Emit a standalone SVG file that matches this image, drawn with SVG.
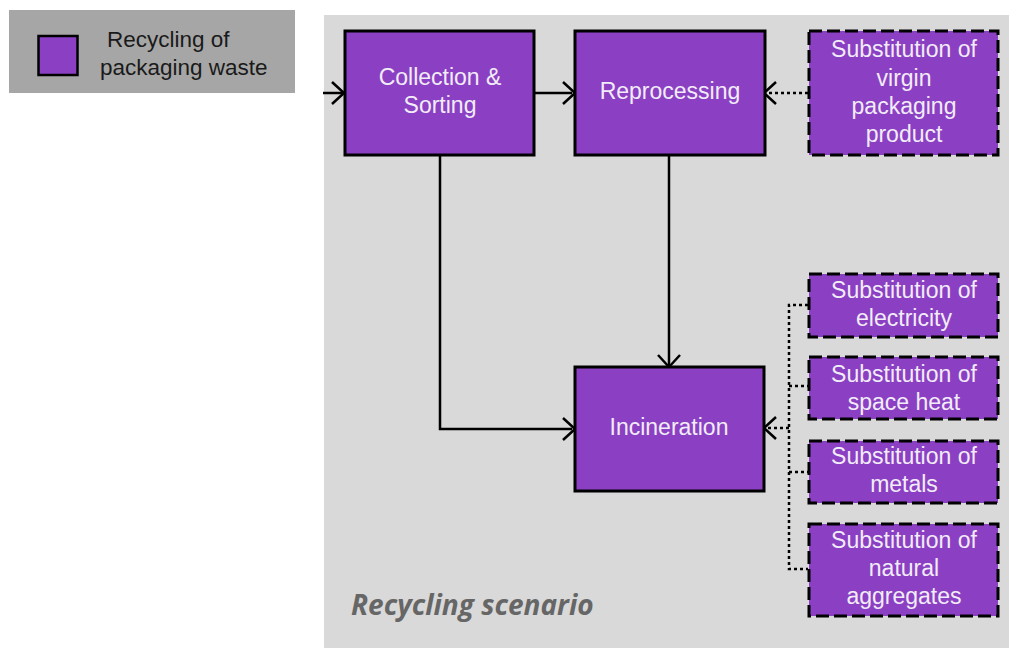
<svg xmlns="http://www.w3.org/2000/svg" width="1009" height="648" viewBox="0 0 1009 648">
<defs>
<style>
.bg{fill:#d9d9d9}
.box{fill:#8b40c3;stroke:#000;stroke-width:3}
.sub{fill:#8b40c3;stroke:#000;stroke-width:3;stroke-dasharray:13 5}
.t{font-family:"Liberation Sans",Arial,sans-serif;font-size:23px;fill:#f2ecf8;text-anchor:middle}
.lt{font-family:"Liberation Sans",Arial,sans-serif;font-size:22.5px;fill:#1a1a1a}
.ln{fill:none;stroke:#000;stroke-width:2.5}
.dl{fill:none;stroke:#000;stroke-width:2.5;stroke-dasharray:3 3}
.ah{fill:none;stroke:#000;stroke-width:2.5}
.title{font-family:"Open Sans",sans-serif;font-size:28px;font-weight:bold;font-style:italic;fill:#666}
</style>
</defs>
<rect x="0" y="0" width="1009" height="648" fill="#fff"/>
<g id="legend">
<rect x="9" y="10" width="286" height="83" fill="#a6a6a6"/>
<rect x="38.5" y="36" width="39" height="39" fill="#8b40c3" stroke="#000" stroke-width="2.5"/>
<text class="lt" x="107" y="47">Recycling of</text>
<text class="lt" x="100" y="75">packaging waste</text>
</g>
<rect id="panel" class="bg" x="324" y="15" width="685" height="633"/>
<text id="scenario-title" class="title" x="351" y="615">Recycling scenario</text>
<g id="connectors">
<path class="ln" d="M323 93H342"/>
<path class="ln" d="M534 93H572"/>
<path class="ln" d="M440 155V429H572"/>
<path class="ln" d="M669 155V365"/>
<path class="dl" d="M808 93H767"/>
<path class="dl" d="M808 305H789V569H808"/>
<path class="dl" d="M789 386H808"/>
<path class="dl" d="M789 472H808"/>
<path class="dl" d="M789 428H767"/>
<path class="ah" d="M332 82L344 93L332 104"/>
<path class="ah" d="M563 82L575 93L563 104"/>
<path class="ah" d="M563 418L575 429L563 440"/>
<path class="ah" d="M658 355L669 367L680 355"/>
<path class="ah" d="M776 82L764 93L776 104"/>
<path class="ah" d="M776 417L764 428L776 439"/>
</g>
<g id="collection-sorting">
<rect class="box" x="345" y="31" width="189" height="124"/>
<text class="t" x="440" y="85">Collection &amp;</text>
<text class="t" x="440" y="113">Sorting</text>
</g>
<g id="reprocessing">
<rect class="box" x="575" y="31" width="190" height="124"/>
<text class="t" x="670" y="99">Reprocessing</text>
</g>
<g id="incineration">
<rect class="box" x="575" y="367" width="189" height="124"/>
<text class="t" x="669" y="435">Incineration</text>
</g>
<g id="sub-virgin">
<rect class="sub" x="809" y="31" width="189" height="124"/>
<text class="t" x="904" y="57">Substitution of</text>
<text class="t" x="904" y="86">virgin</text>
<text class="t" x="904" y="114">packaging</text>
<text class="t" x="904" y="142">product</text>
</g>
<g id="sub-electricity">
<rect class="sub" x="809" y="274" width="189" height="63"/>
<text class="t" x="904" y="298">Substitution of</text>
<text class="t" x="904" y="326">electricity</text>
</g>
<g id="sub-space-heat">
<rect class="sub" x="809" y="357" width="189" height="62"/>
<text class="t" x="904" y="382">Substitution of</text>
<text class="t" x="904" y="410">space heat</text>
</g>
<g id="sub-metals">
<rect class="sub" x="809" y="441" width="189" height="62"/>
<text class="t" x="904" y="464">Substitution of</text>
<text class="t" x="904" y="492">metals</text>
</g>
<g id="sub-aggregates">
<rect class="sub" x="809" y="524" width="189" height="92"/>
<text class="t" x="904" y="548">Substitution of</text>
<text class="t" x="904" y="576">natural</text>
<text class="t" x="904" y="604">aggregates</text>
</g>
</svg>
